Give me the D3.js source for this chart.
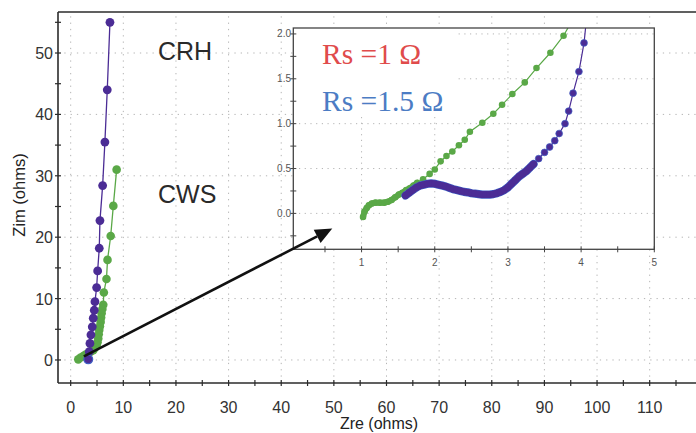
<!DOCTYPE html>
<html>
<head>
<meta charset="utf-8">
<script src="https://cdn.jsdelivr.net/npm/d3@7"></script>
<style>
  html, body { margin: 0; padding: 0; background: #fff; }
  svg { display: block; }
</style>
</head>
<body>
<svg id="chart" width="696" height="433"></svg>
<script>
// ---- Nyquist data, full range (ohms) ----
const crhZre = [7.46, 6.95, 6.50, 6.07, 5.56, 5.43, 5.12, 4.93, 4.61, 4.48, 4.29, 4.10, 3.85, 3.66, 3.53, 3.34];
const crhZim = [55.0, 44.0, 35.5, 28.4, 22.7, 18.2, 14.5, 11.8, 9.5, 8.1, 6.8, 5.4, 4.1, 2.7, 1.35, 0.1];

const cwsZre = [8.73, 8.10, 7.60, 7.00, 6.80, 6.30, 6.19, 6.02, 5.88, 5.78, 5.69, 5.55, 5.43, 5.33, 5.24, 5.10, 4.93, 4.62, 4.29, 3.80, 3.34, 2.85, 2.39, 1.90, 1.44];
const cwsZim = [31.0, 25.1, 20.2, 16.3, 13.2, 11.0, 9.0, 8.3, 7.6, 6.9, 6.2, 5.5, 4.9, 4.2, 3.5, 2.9, 2.4, 2.0, 1.6, 1.35, 1.1, 0.9, 0.65, 0.4, 0.1];

// ---- Nyquist data, high-frequency zoom (ohms) ----
const zoomCwsZre = [1.02, 1.04, 1.07, 1.10, 1.14, 1.19, 1.25, 1.31, 1.36, 1.41, 1.46, 1.51, 1.56, 1.61, 1.66, 1.71, 1.76, 1.84, 1.93, 2.00, 2.08, 2.16, 2.24, 2.33, 2.41, 2.48, 2.65, 2.80, 2.92, 3.06, 3.23, 3.39, 3.58, 3.76, 3.87];
const zoomCwsZim = [-0.04, 0.02, 0.06, 0.09, 0.11, 0.12, 0.12, 0.12, 0.13, 0.15, 0.18, 0.21, 0.23, 0.26, 0.28, 0.31, 0.34, 0.38, 0.44, 0.49, 0.58, 0.64, 0.69, 0.76, 0.82, 0.91, 1.01, 1.11, 1.21, 1.33, 1.46, 1.62, 1.79, 1.98, 2.14];

const zoomCrhZre = [1.60, 1.65, 1.70, 1.75, 1.80, 1.85, 1.90, 1.95, 2.00, 2.05, 2.10, 2.15, 2.20, 2.25, 2.30, 2.35, 2.40, 2.45, 2.50, 2.55, 2.60, 2.65, 2.70, 2.75, 2.80, 2.85, 2.90, 2.95, 3.00, 3.05, 3.10, 3.15, 3.20, 3.25, 3.30, 3.35, 3.42, 3.50, 3.57, 3.64, 3.70, 3.78, 3.83, 3.89, 3.97, 4.04, 4.07];
const zoomCrhZim = [0.20, 0.23, 0.26, 0.29, 0.31, 0.32, 0.33, 0.335, 0.33, 0.32, 0.31, 0.30, 0.285, 0.27, 0.26, 0.25, 0.24, 0.235, 0.225, 0.22, 0.215, 0.21, 0.21, 0.21, 0.215, 0.225, 0.24, 0.26, 0.29, 0.33, 0.37, 0.41, 0.44, 0.47, 0.51, 0.55, 0.61, 0.68, 0.74, 0.81, 0.89, 1.00, 1.14, 1.34, 1.58, 1.90, 2.14];

// number of closely spaced high-frequency samples at the start of each zoom series
const cwsDenseCount = 17;
const crhDenseCount = 36;

// ---- Axis ticks ----
const mainXTicks = [0, 10, 20, 30, 40, 50, 60, 70, 80, 90, 100, 110];
const mainYTicks = [0, 10, 20, 30, 40, 50];
const zoomXTicks = [1, 2, 3, 4, 5];
const zoomYTicks = [0.0, 0.5, 1.0, 1.5, 2.0];

const PURPLE = "#4b2c95";
const PURPLE_EDGE = "#3f5fc4";
const GREEN = "#5aa847";
const GRID = "#b5b5b5";
const AXIS = "#2b2b2b";
const SANS = "'Liberation Sans', Arial, Helvetica, sans-serif";
const SERIF = "'Liberation Serif', 'Times New Roman', serif";

const svg = d3.select("#chart");

// ================= Main plot =================
const x = d3.scaleLinear().domain([-2.41, 118.8]).range([58, 696]);
const y = d3.scaleLinear().domain([-3.75, 56.68]).range([383, 12]);

const main = svg.append("g");

// dotted grid
main.append("g").selectAll("line").data(mainXTicks).join("line")
  .attr("x1", d => x(d)).attr("x2", d => x(d))
  .attr("y1", y.range()[0]).attr("y2", y.range()[1])
  .attr("stroke", GRID).attr("stroke-width", 1).attr("stroke-dasharray", "1.3,5");
main.append("g").selectAll("line").data(mainYTicks).join("line")
  .attr("x1", x.range()[0]).attr("x2", x.range()[1])
  .attr("y1", d => y(d)).attr("y2", d => y(d))
  .attr("stroke", GRID).attr("stroke-width", 1).attr("stroke-dasharray", "1.3,5");

// frame: left axis, bottom axis, top edge
main.append("line").attr("x1", 58).attr("x2", 58).attr("y1", 12).attr("y2", 383)
  .attr("stroke", AXIS).attr("stroke-width", 1.6);
main.append("line").attr("x1", 58).attr("x2", 696).attr("y1", 383).attr("y2", 383)
  .attr("stroke", AXIS).attr("stroke-width", 1.6);
main.append("line").attr("x1", 58).attr("x2", 696).attr("y1", 12).attr("y2", 12)
  .attr("stroke", AXIS).attr("stroke-width", 1.6);

// tick marks every 5 ohms, straddling the axes
const xMinor = d3.range(0, 120, 5);
const yMinor = d3.range(0, 60, 5);
main.append("g").selectAll("line").data(xMinor).join("line")
  .attr("x1", d => x(d)).attr("x2", d => x(d))
  .attr("y1", 380).attr("y2", 386)
  .attr("stroke", AXIS).attr("stroke-width", 1.2);
main.append("g").selectAll("line").data(yMinor).join("line")
  .attr("x1", 55).attr("x2", 61)
  .attr("y1", d => y(d)).attr("y2", d => y(d))
  .attr("stroke", AXIS).attr("stroke-width", 1.2);

// tick labels
main.append("g").selectAll("text").data(mainXTicks).join("text")
  .attr("x", d => x(d)).attr("y", 413)
  .attr("text-anchor", "middle")
  .attr("font-family", SANS).attr("font-size", 16).attr("fill", "#333")
  .text(d => d);
main.append("g").selectAll("text").data(mainYTicks).join("text")
  .attr("x", 53).attr("y", d => y(d) + 6)
  .attr("text-anchor", "end")
  .attr("font-family", SANS).attr("font-size", 16).attr("fill", "#333")
  .text(d => d);

// axis titles
main.append("text").attr("x", 379).attr("y", 429)
  .attr("text-anchor", "middle")
  .attr("font-family", SANS).attr("font-size", 16).attr("fill", "#222")
  .text("Zre (ohms)");
main.append("text")
  .attr("transform", "translate(25,195) rotate(-90)")
  .attr("text-anchor", "middle")
  .attr("font-family", SANS).attr("font-size", 16.5).attr("fill", "#222")
  .text("Zim (ohms)");

// series
const crhMain = crhZre.map((v, i) => [v, crhZim[i]]);
const cwsMain = cwsZre.map((v, i) => [v, cwsZim[i]]);
const mainLine = d3.line().x(d => x(d[0])).y(d => y(d[1]));

main.append("path").datum(cwsMain).attr("d", mainLine)
  .attr("fill", "none").attr("stroke", GREEN).attr("stroke-width", 1.3);
main.append("g").selectAll("circle").data(cwsMain).join("circle")
  .attr("cx", d => x(d[0])).attr("cy", d => y(d[1])).attr("r", 4.3)
  .attr("fill", GREEN);

main.append("path").datum(crhMain).attr("d", mainLine)
  .attr("fill", "none").attr("stroke", PURPLE).attr("stroke-width", 1.3);
main.append("g").selectAll("circle").data(crhMain).join("circle")
  .attr("cx", d => x(d[0])).attr("cy", d => y(d[1])).attr("r", 4.4)
  .attr("fill", PURPLE)
  .attr("stroke", (d, i) => i === crhMain.length - 1 ? PURPLE_EDGE : "none")
  .attr("stroke-width", 1.2);

// sample labels
main.append("text").attr("x", 158).attr("y", 60)
  .attr("font-family", SANS).attr("font-size", 25).attr("fill", "#2a2a2a")
  .text("CRH");
main.append("text").attr("x", 158).attr("y", 203)
  .attr("font-family", SANS).attr("font-size", 25).attr("fill", "#2a2a2a")
  .text("CWS");

// ================= Zoomed inset =================
const ix = d3.scaleLinear().domain([0.067, 5.0]).range([293.3, 654.3]);
const iy = d3.scaleLinear().domain([-0.4, 2.066]).range([249.3, 28]);

const inset = svg.append("g");
inset.append("rect")
  .attr("x", ix.range()[0]).attr("y", iy.range()[1])
  .attr("width", ix.range()[1] - ix.range()[0])
  .attr("height", iy.range()[0] - iy.range()[1])
  .attr("fill", "#fff");

inset.append("clipPath").attr("id", "inset-clip").append("rect")
  .attr("x", ix.range()[0]).attr("y", iy.range()[1])
  .attr("width", ix.range()[1] - ix.range()[0])
  .attr("height", iy.range()[0] - iy.range()[1]);

const ig = inset.append("g").attr("clip-path", "url(#inset-clip)");

ig.append("g").selectAll("line").data(zoomXTicks.slice(0, 4)).join("line")
  .attr("x1", d => ix(d)).attr("x2", d => ix(d))
  .attr("y1", iy.range()[0]).attr("y2", iy.range()[1])
  .attr("stroke", GRID).attr("stroke-width", 1).attr("stroke-dasharray", "1.2,4.5");
ig.append("g").selectAll("line").data(zoomYTicks).join("line")
  .attr("x1", ix.range()[0]).attr("x2", ix.range()[1])
  .attr("y1", d => iy(d)).attr("y2", d => iy(d))
  .attr("stroke", GRID).attr("stroke-width", 1).attr("stroke-dasharray", "1.2,4.5");

// blank panel behind the Rs annotations
ig.append("rect")
  .attr("x", ix.range()[0] + 1).attr("y", iy.range()[1] + 1)
  .attr("width", ix(2.29) - ix.range()[0])
  .attr("height", iy(1.1) - iy.range()[1])
  .attr("fill", "#fff");

const cwsZoom = zoomCwsZre.map((v, i) => [v, zoomCwsZim[i]]);
const crhZoom = zoomCrhZre.map((v, i) => [v, zoomCrhZim[i]]);
const zoomLine = d3.line().x(d => ix(d[0])).y(d => iy(d[1]));

// dense sampling merges into a solid band
ig.append("path").datum(cwsZoom.slice(0, cwsDenseCount)).attr("d", zoomLine)
  .attr("fill", "none").attr("stroke", GREEN).attr("stroke-width", 6)
  .attr("stroke-linecap", "round").attr("stroke-linejoin", "round");
ig.append("path").datum(cwsZoom).attr("d", zoomLine)
  .attr("fill", "none").attr("stroke", GREEN).attr("stroke-width", 1.2);
ig.append("g").selectAll("circle").data(cwsZoom).join("circle")
  .attr("cx", d => ix(d[0])).attr("cy", d => iy(d[1])).attr("r", 3.3)
  .attr("fill", GREEN);

ig.append("path").datum(crhZoom.slice(0, crhDenseCount)).attr("d", zoomLine)
  .attr("fill", "none").attr("stroke", PURPLE_EDGE).attr("stroke-width", 8.2)
  .attr("stroke-linecap", "round").attr("stroke-linejoin", "round");
ig.append("path").datum(crhZoom.slice(0, crhDenseCount)).attr("d", zoomLine)
  .attr("fill", "none").attr("stroke", PURPLE).attr("stroke-width", 6.8)
  .attr("stroke-linecap", "round").attr("stroke-linejoin", "round");
ig.append("path").datum(crhZoom).attr("d", zoomLine)
  .attr("fill", "none").attr("stroke", PURPLE).attr("stroke-width", 1.2);
ig.append("g").selectAll("circle").data(crhZoom).join("circle")
  .attr("cx", d => ix(d[0])).attr("cy", d => iy(d[1])).attr("r", 3.4)
  .attr("fill", PURPLE)
  .attr("stroke", (d, i) => i < crhDenseCount ? "none" : PURPLE_EDGE)
  .attr("stroke-width", 0.7);

// inset frame
inset.append("rect")
  .attr("x", ix.range()[0]).attr("y", iy.range()[1])
  .attr("width", ix.range()[1] - ix.range()[0])
  .attr("height", iy.range()[0] - iy.range()[1])
  .attr("fill", "none").attr("stroke", "#444").attr("stroke-width", 1.3);

// inset ticks
const izx = d3.range(0.5, 5.01, 0.5);
const izy = d3.range(-0.25, 2.01, 0.25);
inset.append("g").selectAll("line").data(izx).join("line")
  .attr("x1", d => ix(d)).attr("x2", d => ix(d))
  .attr("y1", iy.range()[0] - 3).attr("y2", iy.range()[0] + 3)
  .attr("stroke", "#444").attr("stroke-width", 1);
inset.append("g").selectAll("line").data(izy).join("line")
  .attr("x1", ix.range()[0] - 3).attr("x2", ix.range()[0] + 3)
  .attr("y1", d => iy(d)).attr("y2", d => iy(d))
  .attr("stroke", "#444").attr("stroke-width", 1);

inset.append("g").selectAll("text").data(zoomXTicks).join("text")
  .attr("x", d => ix(d)).attr("y", 266)
  .attr("text-anchor", "middle")
  .attr("font-family", SANS).attr("font-size", 10).attr("fill", "#555")
  .text(d => d);
inset.append("g").selectAll("text").data(zoomYTicks).join("text")
  .attr("x", 291).attr("y", d => iy(d) + 3.5)
  .attr("text-anchor", "end")
  .attr("font-family", SANS).attr("font-size", 10).attr("fill", "#555")
  .text(d => d.toFixed(1));

// series resistance annotations
inset.append("text").attr("x", 322).attr("y", 64)
  .attr("font-family", SERIF).attr("font-size", 29.5).attr("fill", "#e04b4b")
  .text("Rs =1 \u03A9");
inset.append("text").attr("x", 322).attr("y", 111)
  .attr("font-family", SERIF).attr("font-size", 29.5).attr("fill", "#4c7cc4")
  .text("Rs =1.5 \u03A9");

// ================= Zoom arrow =================
const arrowFrom = [2.5, 0.6];
const arrowTo = [49.7, 21.4];
const ax0 = x(arrowFrom[0]), ay0 = y(arrowFrom[1]);
const ax1 = x(arrowTo[0]), ay1 = y(arrowTo[1]);
const ang = Math.atan2(ay1 - ay0, ax1 - ax0);
const headLen = 17, headHalf = 7.5;
const bx = ax1 - headLen * Math.cos(ang), by = ay1 - headLen * Math.sin(ang);
svg.append("line")
  .attr("x1", ax0).attr("y1", ay0).attr("x2", bx).attr("y2", by)
  .attr("stroke", "#111").attr("stroke-width", 2.6);
svg.append("path")
  .attr("d", d3.line()([
    [ax1, ay1],
    [bx + headHalf * Math.sin(ang), by - headHalf * Math.cos(ang)],
    [bx - headHalf * Math.sin(ang), by + headHalf * Math.cos(ang)]
  ]) + "Z")
  .attr("fill", "#111");
</script>
</body>
</html>
